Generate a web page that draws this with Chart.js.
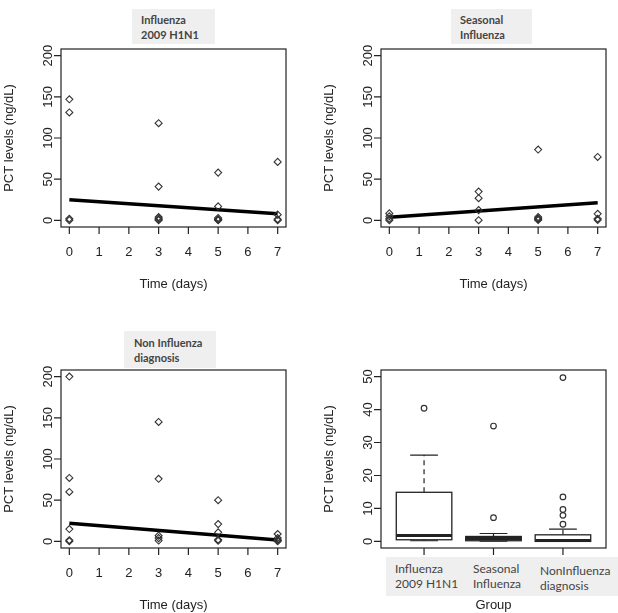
<!DOCTYPE html>
<html>
<head>
<meta charset="utf-8">
<script src="https://cdn.jsdelivr.net/npm/chart.js@4"></script>
<style>
  body { margin: 0; background: #fff; }
  #wrap { position: relative; width: 618px; height: 613px; overflow: hidden; }
  canvas { position: absolute; }
  .tag { position: absolute; background: #efefef; color: #444; font-family: Lato, sans-serif;
         font-size: 11px; line-height: 15px; box-sizing: border-box; white-space: pre; }
  .tag.b { font-weight: bold; }
</style>
</head>
<body>
<div id="wrap">
  <canvas id="c1" width="309" height="300" style="left:0;top:0"></canvas>
  <canvas id="c2" width="309" height="300" style="left:309px;top:0"></canvas>
  <canvas id="c3" width="309" height="313" style="left:0;top:300px"></canvas>
  <canvas id="c4" width="309" height="313" style="left:309px;top:300px"></canvas>
  <div class="tag b" style="left:132px;top:9px;width:83px;height:35px;padding:3px 0 0 9px">Influenza
2009 H1N1</div>
  <div class="tag b" style="left:451px;top:9px;width:81px;height:35px;padding:3px 0 0 9px">Seasonal
Influenza</div>
  <div class="tag b" style="left:124px;top:331px;width:92px;height:37px;padding:4px 0 0 10px">Non Influenza
diagnosis</div>
  <div class="tag" style="left:386px;top:557px;width:232px;height:39px;font-size:12px;padding:4px 0 0 0"></div>
  <div class="tag" style="left:395px;top:561px;background:none;font-size:12px">Influenza
2009 H1N1</div>
  <div class="tag" style="left:473px;top:561px;background:none;font-size:12px">Seasonal
Influenza</div>
  <div class="tag" style="left:540px;top:563px;background:none;font-size:12px">NonInfluenza
diagnosis</div>
</div>
<script>
// days of measurement
const dayTicks = [0, 1, 2, 3, 4, 5, 6, 7]
const pctTicks = [0, 50, 100, 150, 200]
const boxTicks = [0, 10, 20, 30, 40, 50]
const fitDays = [0, 7]

// Influenza 2009 H1N1
const h1n1Days = [0, 0, 0, 0, 3, 3, 3, 3, 3, 3, 5, 5, 5, 5, 5, 5, 7, 7, 7, 7]
const h1n1Pct = [147, 131, 2, 0.3, 118, 41, 4, 2.5, 1, 0.3, 58, 17, 3, 1.5, 0.8, 0.2, 71, 7, 1.5, 0.3]
const h1n1Fit = [25.2, 8.1]

// Seasonal influenza
const seasDays = [0, 0, 0, 0, 3, 3, 3, 3, 5, 5, 5, 5, 5, 7, 7, 7, 7]
const seasPct = [8.5, 5, 2, 0.3, 35, 27, 12.5, 0.3, 86, 4, 2.5, 1.5, 0.5, 77, 8, 2, 0.5]
const seasFit = [3.7, 21.5]

// Non influenza diagnosis
const nonDays = [0, 0, 0, 0, 0, 0, 3, 3, 3, 3, 3, 5, 5, 5, 5, 5, 7, 7, 7, 7, 7]
const nonPct = [200, 77, 60, 15, 1.5, 0.3, 145, 76, 7, 4, 1, 50, 21, 11, 2, 0.8, 9, 4, 2, 1, 0.2]
const nonFit = [21.9, 1.6]

// boxplot by group
const groups = ["Influenza 2009 H1N1", "Seasonal Influenza", "NonInfluenza diagnosis"]
const boxLow = [0.2, 0.1, 0]
const boxQ1 = [0.5, 0.2, 0]
const boxMed = [1.8, 0.9, 0.3]
const boxQ3 = [14.9, 1.5, 2.0]
const boxHigh = [26.2, 2.4, 3.7]
const outGroup = [1, 2, 2, 3, 3, 3, 3, 3]
const outPct = [40.4, 7.2, 35.0, 5.2, 7.9, 9.7, 13.5, 49.7]

const ink = "#222"
const font = "13px 'Liberation Sans', Arial, sans-serif"

function pts(xs, ys) {
    return xs.map((x, i) => ({x: x, y: ys[i]}))
}

// R style frame, ticks and labels, drawn from the chart's scales
const rAxes = {
    id: "rAxes",
    afterDatasetsDraw(chart, args, opts) {
        const ctx = chart.ctx
        const a = chart.chartArea
        const xs = chart.scales.x
        const ys = chart.scales.y
        ctx.save()
        ctx.strokeStyle = ink
        ctx.fillStyle = ink
        ctx.lineWidth = 1.2
        ctx.strokeRect(a.left, a.top, a.right - a.left, a.bottom - a.top)
        ctx.font = font
        ctx.textAlign = "center"
        ctx.textBaseline = "middle"
        ctx.beginPath()
        opts.xTicks.forEach(v => {
            let px = xs.getPixelForValue(v)
            ctx.moveTo(px, a.bottom)
            ctx.lineTo(px, a.bottom + 7)
        })
        opts.yTicks.forEach(v => {
            let py = ys.getPixelForValue(v)
            ctx.moveTo(a.left, py)
            ctx.lineTo(a.left - 7, py)
        })
        ctx.stroke()
        if (opts.xLabels) {
            opts.xTicks.forEach(v => {
                ctx.fillText(String(v), xs.getPixelForValue(v), a.bottom + 25)
            })
        }
        opts.yTicks.forEach(v => {
            ctx.save()
            ctx.translate(a.left - 13, ys.getPixelForValue(v))
            ctx.rotate(-Math.PI / 2)
            ctx.fillText(String(v), 0, 0)
            ctx.restore()
        })
        ctx.fillText(opts.xTitle, (a.left + a.right) / 2, a.bottom + 57)
        ctx.save()
        ctx.translate(a.left - 52, (a.top + a.bottom) / 2)
        ctx.rotate(-Math.PI / 2)
        ctx.fillText(opts.yTitle, 0, 0)
        ctx.restore()
        ctx.restore()
    }
}

// boxes, medians and whiskers
const boxPlot = {
    id: "boxPlot",
    beforeDatasetsDraw(chart, args, opts) {
        if (!opts.on) return
        const ctx = chart.ctx
        const xs = chart.scales.x
        const ys = chart.scales.y
        ctx.save()
        ctx.strokeStyle = ink
        for (let i = 0; i < groups.length; i++) {
            let c = i + 1
            let l = xs.getPixelForValue(c - 0.4), r = xs.getPixelForValue(c + 0.4)
            let cl = xs.getPixelForValue(c - 0.2), cr = xs.getPixelForValue(c + 0.2)
            let cx = xs.getPixelForValue(c)
            let yLo = ys.getPixelForValue(boxLow[i]), yQ1 = ys.getPixelForValue(boxQ1[i])
            let yMed = ys.getPixelForValue(boxMed[i]), yQ3 = ys.getPixelForValue(boxQ3[i])
            let yHi = ys.getPixelForValue(boxHigh[i])
            // whiskers
            ctx.lineWidth = 1.2
            ctx.setLineDash([5, 4])
            ctx.beginPath()
            ctx.moveTo(cx, yQ3); ctx.lineTo(cx, yHi)
            ctx.moveTo(cx, yQ1); ctx.lineTo(cx, yLo)
            ctx.stroke()
            ctx.setLineDash([])
            ctx.beginPath()
            ctx.moveTo(cl, yHi); ctx.lineTo(cr, yHi)
            ctx.moveTo(cl, yLo); ctx.lineTo(cr, yLo)
            ctx.stroke()
            // box
            ctx.fillStyle = "#fff"
            ctx.fillRect(l, yQ3, r - l, yQ1 - yQ3)
            ctx.lineWidth = 1.3
            ctx.strokeRect(l, yQ3, r - l, yQ1 - yQ3)
            ctx.lineWidth = 3
            ctx.beginPath()
            ctx.moveTo(l, yMed); ctx.lineTo(r, yMed)
            ctx.stroke()
        }
        ctx.restore()
    }
}

function scatterChart(id, days, pct, fit, pad, tag) {
    return new Chart(document.getElementById(id), {
        type: "scatter",
        data: {
            datasets: [
                {
                    label: tag,
                    data: pts(days, pct),
                    pointStyle: "rectRot",
                    pointRadius: 3.5,
                    borderColor: "#333",
                    backgroundColor: "rgba(0,0,0,0)",
                    borderWidth: 1.1,
                },
                {
                    type: "line",
                    label: "fit",
                    data: pts(fitDays, fit),
                    borderColor: "#000",
                    borderWidth: 3.5,
                    pointRadius: 0,
                    fill: false,
                }
            ]
        },
        options: {
            responsive: false,
            animation: false,
            layout: {padding: pad},
            plugins: {
                legend: {display: false},
                tooltip: {enabled: false},
                rAxes: {xTicks: dayTicks, yTicks: pctTicks, xLabels: true,
                        xTitle: "Time (days)", yTitle: "PCT levels (ng/dL)"},
                boxPlot: {on: false}
            },
            scales: {
                x: {type: "linear", min: -0.28, max: 7.28, display: false},
                y: {type: "linear", min: -8, max: 208, display: false}
            }
        },
        plugins: [rAxes, boxPlot]
    })
}

scatterChart("c1", h1n1Days, h1n1Pct, h1n1Fit, {left: 61, top: 49, right: 23, bottom: 73}, "Influenza 2009 H1N1")
scatterChart("c2", seasDays, seasPct, seasFit, {left: 72, top: 49, right: 12, bottom: 73}, "Seasonal Influenza")
scatterChart("c3", nonDays, nonPct, nonFit, {left: 61, top: 70, right: 23, bottom: 65}, "Non Influenza diagnosis")

new Chart(document.getElementById("c4"), {
    type: "scatter",
    data: {
        datasets: [
            {
                label: "outliers",
                data: pts(outGroup, outPct),
                pointStyle: "circle",
                pointRadius: 2.8,
                borderColor: "#333",
                backgroundColor: "rgba(0,0,0,0)",
                borderWidth: 1.2,
            }
        ]
    },
    options: {
        responsive: false,
        animation: false,
        layout: {padding: {left: 72, top: 70, right: 12, bottom: 65}},
        plugins: {
            legend: {display: false},
            tooltip: {enabled: false},
            rAxes: {xTicks: [1, 2, 3], yTicks: boxTicks, xLabels: false,
                    xTitle: "Group", yTitle: "PCT levels (ng/dL)"},
            boxPlot: {on: true}
        },
        scales: {
            x: {type: "linear", min: 0.38, max: 3.62, display: false},
            y: {type: "linear", min: -2, max: 52, display: false}
        }
    },
    plugins: [rAxes, boxPlot]
})
</script>
</body>
</html>
